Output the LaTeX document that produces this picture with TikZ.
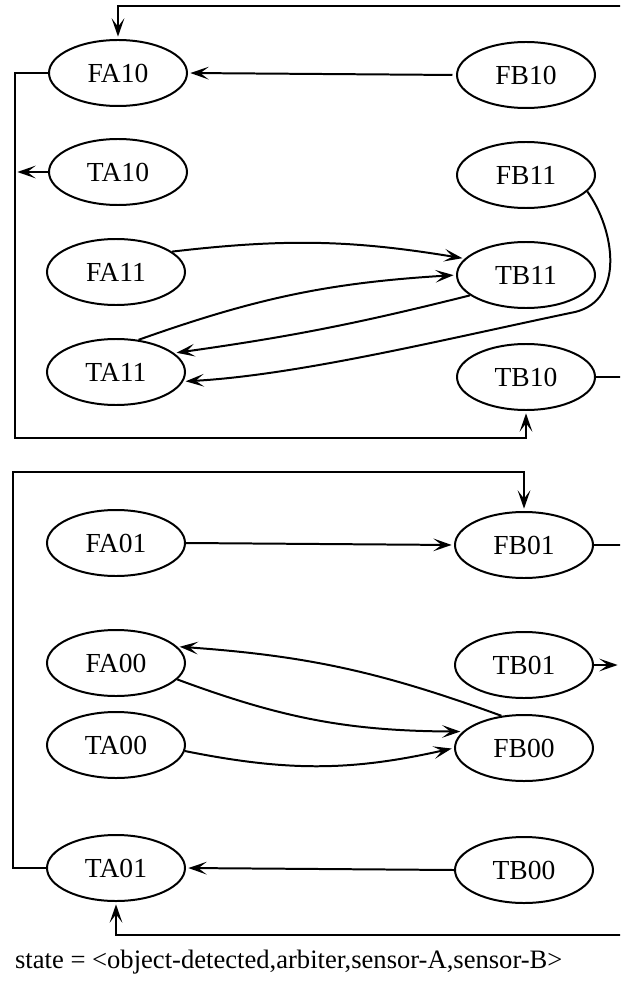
\documentclass[tikz,border=0pt]{standalone}
\usepackage{fontspec}
\setmainfont{Liberation Serif}
\usetikzlibrary{arrows.meta,shapes.geometric}

\begin{document}
\begin{tikzpicture}[x=0.03cm,y=-0.03cm,
    stnode/.style={draw,ellipse,line width=1.7pt,inner sep=0pt,
      minimum width=4.14cm,minimum height=1.98cm,font=\fontsize{23.5}{27}\selectfont},
    ln/.style={line width=1.7pt},
    arr/.style={line width=1.7pt,-{Stealth[length=0.55cm,width=0.38cm,inset=0.25cm]},shorten >=2pt}]
  \useasboundingbox (0,0) rectangle (620,991);
  \clip (0,0) rectangle (620,991);
      % upper half
      \node[stnode] (fa10) at (118,73) {FA10};
      \node[stnode] (fb10) at (526,75) {FB10};
      \node[stnode] (ta10) at (118,172) {TA10};
      \node[stnode] (fb11) at (526,175) {FB11};
      \node[stnode] (fa11) at (116,272) {FA11};
      \node[stnode] (tb11) at (526,275) {TB11};
      \node[stnode] (ta11) at (116,372) {TA11};
      \node[stnode] (tb10) at (526,377) {TB10};
      % lower half
      \node[stnode] (fa01) at (116,543) {FA01};
      \node[stnode] (fb01) at (524,545) {FB01};
      \node[stnode] (fa00) at (116,663) {FA00};
      \node[stnode] (tb01) at (524,665) {TB01};
      \node[stnode] (ta00) at (116,745) {TA00};
      \node[stnode] (fb00) at (524,748) {FB00};
      \node[stnode] (ta01) at (116,868) {TA01};
      \node[stnode] (tb00) at (524,870) {TB00};
      \node[anchor=west,font=\fontsize{22.7}{26}\selectfont] (caption) at (11,962)
        {state = <object-detected,arbiter,sensor-A,sensor-B>};
      % loose ends at the right border
      \coordinate (topR) at (625,6);
      \coordinate (tb10R) at (625,377);
      \coordinate (fb01R) at (625,545);
      \coordinate (tb01R) at (620,665);
      \coordinate (botR) at (625,935);
      \coordinate (boxA) at (15,438);
      \coordinate (boxB) at (13,472);
    \draw[arr] (topR) -| (fa10.north);
    \draw[arr,shorten <=3pt] (fb10.west) -- (fa10.east);
    \draw[arr] (ta10.west) -- (ta10.west -| boxA);
    \draw[arr] (fa10.west) -| (boxA) -| (tb10.south);
    \draw[ln] (tb10.east) -- (tb10R);
    \draw[arr] (fa11.20) to[bend left=8] (tb11.165);
    \draw[arr] (ta11.55) to[bend left=8] (tb11.west);
    \draw[arr] (tb11.200) to[bend left=3] (ta11.18);
    \draw[arr] (fb11.-15) .. controls (615,230) and (625,300) .. (575,312)
      .. controls (450,338) and (300,375) .. (ta11.-8);
    \draw[arr] (fa01.east) -- (fb01.west);
    \draw[arr] (ta01.west) -| (boxB) -| (fb01.north);
    \draw[ln] (fb01.east) -- (fb01R);
    \draw[arr] (tb01.east) -- (tb01R);
    \draw[arr] (fa00.-15) to[bend right=10] (fb00.165);
    \draw[arr] (fb00.125) to[bend right=8] (fa00.15);
    \draw[arr] (ta00.-5) to[bend right=12] (fb00.west);
    \draw[arr] (tb00.west) -- (ta01.east);
    \draw[arr] (botR) -| (ta01.south);
\end{tikzpicture}
\end{document}
